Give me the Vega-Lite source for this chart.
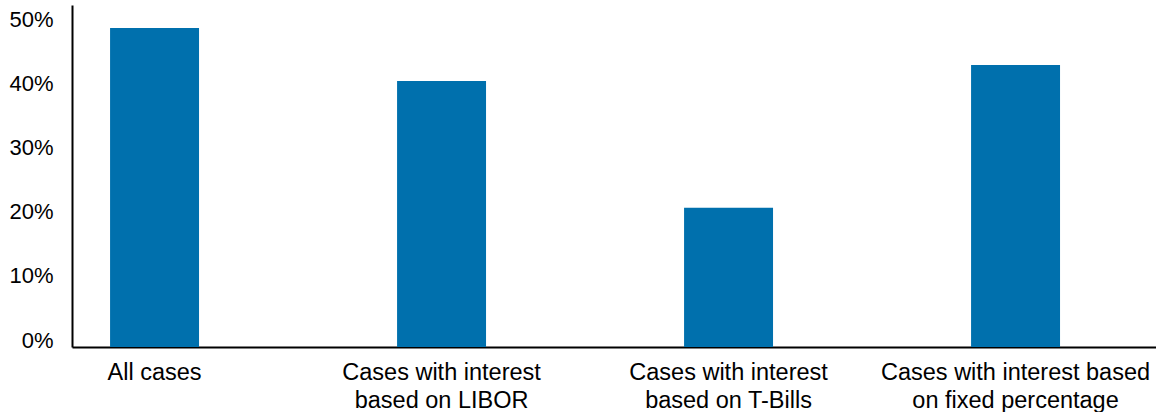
{
  "$schema": "https://vega.github.io/schema/vega-lite/v6.json",
  "width": 1084,
  "height": 342,
  "autosize": {"type": "none"},
  "padding": {"left": 72, "top": 5, "right": 0, "bottom": 65},
  "background": "white",
  "config": {
    "view": {"stroke": null},
    "font": "Liberation Sans"
  },
  "data": {
    "values": [
      {"category": "All cases", "order": 1, "value": 0.497},
      {"category": "Cases with interest|based on LIBOR", "order": 2, "value": 0.4146},
      {"category": "Cases with interest|based on T-Bills", "order": 3, "value": 0.217},
      {"category": "Cases with interest based|on fixed percentage", "order": 4, "value": 0.4395}
    ]
  },
  "mark": {"type": "bar", "color": "#0070ad"},
  "encoding": {
    "x": {
      "field": "category",
      "type": "nominal",
      "sort": {"field": "order"},
      "scale": {"paddingInner": 0.69, "paddingOuter": 0.2335, "align": 0.284},
      "axis": {
        "title": null,
        "labelAngle": 0,
        "ticks": false,
        "domainColor": "#000000",
        "domainWidth": 2,
        "labelFontSize": 23.5,
        "labelColor": "#000000",
        "labelPadding": 13,
        "labelLineHeight": 28,
        "labelLimit": 0,
        "labelExpr": "split(datum.label, '|')"
      }
    },
    "y": {
      "field": "value",
      "type": "quantitative",
      "scale": {"domain": [0, 0.533], "nice": false},
      "axis": {
        "title": null,
        "values": [0, 0.1, 0.2, 0.3, 0.4, 0.5],
        "format": ".0%",
        "grid": false,
        "ticks": false,
        "domainColor": "#000000",
        "domainWidth": 2,
        "labelFontSize": 22,
        "labelColor": "#000000",
        "labelBaseline": "alphabetic",
        "labelPadding": 19
      }
    }
  }
}
